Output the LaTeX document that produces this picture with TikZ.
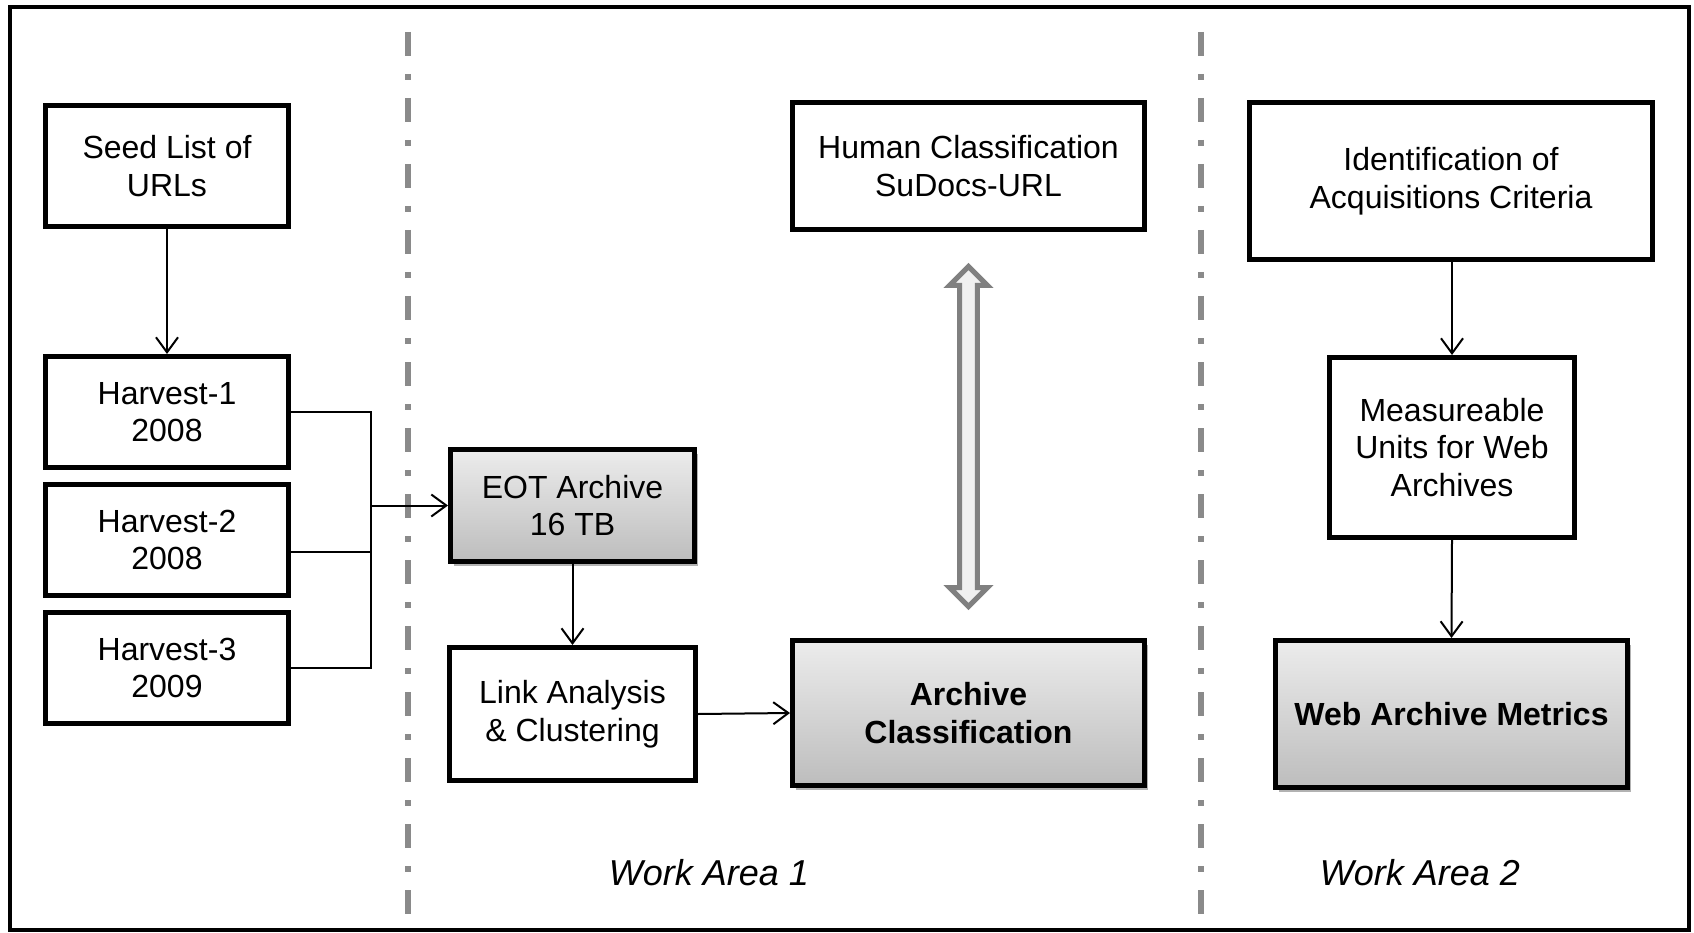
\documentclass[tikz,border=0pt]{standalone}
\usepackage{fontspec}
\setmainfont{Liberation Sans}
\usetikzlibrary{arrows.meta,shadows,calc}

\definecolor{sepgray}{RGB}{138,138,138}
\definecolor{arrgray}{RGB}{128,128,128}
\definecolor{arrfill}{RGB}{240,240,240}
\definecolor{gradtop}{RGB}{236,236,236}
\definecolor{gradbot}{RGB}{189,189,189}

\tikzset{
  plainbox/.style={draw=black, line width=5pt, fill=white, inner sep=0pt,
    align=center, font=\fontsize{32}{37.5}\selectfont},
  shadebox/.style={plainbox, top color=gradtop, bottom color=gradbot,
    drop shadow={shadow xshift=3pt, shadow yshift=-4pt, opacity=0.3, fill=black}},
  link/.style={line width=2pt, -{Straight Barb[length=15pt,width=22pt]}},
  wire/.style={line width=2pt},
  separator/.style={draw=sepgray, line width=6pt,
    dash pattern=on 24pt off 18pt on 6pt off 18pt},
  arealabel/.style={font=\fontsize{36}{42}\selectfont\itshape, inner sep=0pt},
  bigarrow/.style={draw=arrgray, fill=arrfill, line width=5pt, line join=miter}
}

\begin{document}
\begin{tikzpicture}[x=1pt,y=-1pt]
  \useasboundingbox (0,0) rectangle (1694,933);

  % outer frame
  \draw[line width=4pt] (10,7) rectangle (1689,930);

  % area separators
  \draw[separator] (408,32) -- (408,926);
  \draw[separator] (1201,32) -- (1201,926);

  % harvesting column
  \node[plainbox, minimum width=243pt, minimum height=121pt] (seed) at (167,166) {Seed List of\\URLs};
  \node[plainbox, minimum width=243pt, minimum height=111pt] (h1) at (167,412) {Harvest-1\\2008};
  \node[plainbox, minimum width=243pt, minimum height=111pt] (h2) at (167,540) {Harvest-2\\2008};
  \node[plainbox, minimum width=243pt, minimum height=111pt] (h3) at (167,668) {Harvest-3\\2009};

  % work area 1
  \node[shadebox, minimum width=244pt, minimum height=112pt] (eot) at (572.5,505.5) {EOT Archive\\16 TB};
  \node[plainbox, minimum width=246pt, minimum height=133pt] (lnk) at (572.5,714) {Link Analysis\\\& Clustering};
  \node[shadebox, minimum width=352pt, minimum height=145pt] (arch) at (968.5,713) {\bfseries Archive\\\bfseries Classification};
  \node[plainbox, minimum width=352pt, minimum height=127pt] (hum) at (968.5,166) {Human Classification\\SuDocs-URL};

  % work area 2
  \node[plainbox, minimum width=403pt, minimum height=157pt] (ident) at (1451,181) {Identification of\\Acquisitions Criteria};
  \node[plainbox, minimum width=245pt, minimum height=180pt] (meas) at (1452,447.5) {Measureable\\Units for Web\\Archives};
  \node[shadebox, minimum width=352pt, minimum height=147pt] (wam) at (1451.5,714) {\bfseries Web Archive Metrics};

  % area labels
  \node[arealabel] (wa1) at (709,873) {Work Area 1};
  \node[arealabel] (wa2) at (1420,873) {Work Area 2};

  % harvest bracket
  \coordinate (bt) at (371,412);
  \coordinate (bb) at (371,668);
  \coordinate (b2) at (371,552);
  \draw[wire] (h1.east) -- (bt) -- (bb) -- (h3.east);
  \draw[wire] ([yshift=-12pt]h2.east) -- (b2);

  % flow connectors
  \draw[link] (seed.south) -- (h1.north);
  \draw[link] (eot.west -| bt) -- (eot.west);
  \draw[link] (eot.south) -- (lnk.north);
  \draw[link] (lnk.east) -- (arch.west);
  \draw[link] (ident.south -| meas.north) -- (meas.north);
  \draw[link] (meas.south) -- (wam.north);

  % two-way link between human and archive classification
  \coordinate (dt) at ($(hum.south)+(0,34.5)$);
  \coordinate (db) at ($(arch.north)+(0,-31.5)$);
  \draw[bigarrow]
    (dt) -- ($(dt)+(19,19)$) -- ($(dt)+(8.8,19)$)
    -- ($(db)+(8.8,-19)$) -- ($(db)+(19,-19)$) -- (db)
    -- ($(db)+(-19,-19)$) -- ($(db)+(-8.8,-19)$)
    -- ($(dt)+(-8.8,19)$) -- ($(dt)+(-19,19)$) -- cycle;
\end{tikzpicture}
\end{document}
